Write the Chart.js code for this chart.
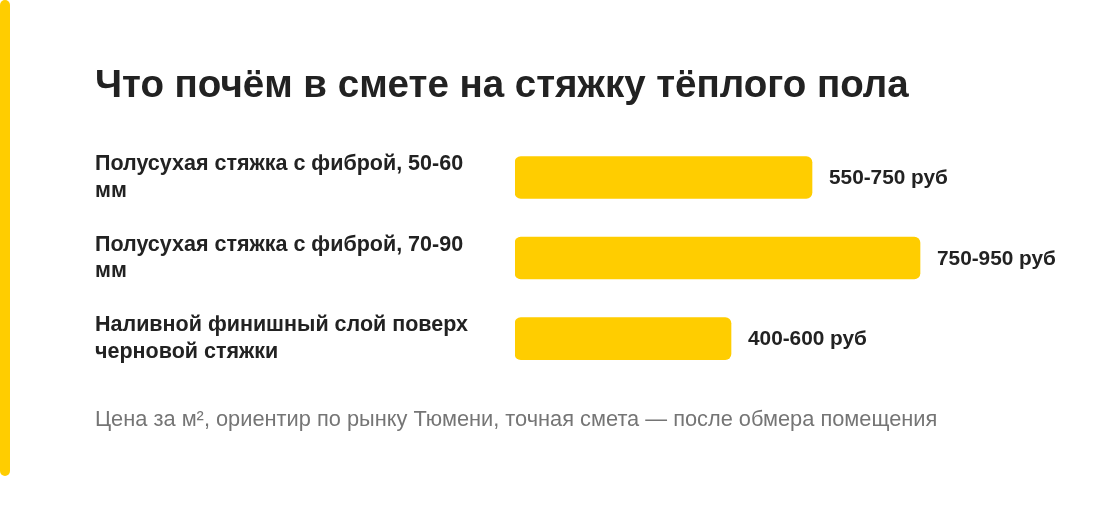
<!DOCTYPE html>
<html>
<head>
<meta charset="utf-8">
<script src="https://cdn.jsdelivr.net/npm/chart.js@4"></script>
<style>
  html, body { margin: 0; padding: 0; background: #ffffff; }
  #wrap { position: relative; width: 1100px; height: 518px; overflow: hidden; }
  #stripe { position: absolute; left: 0; top: 0; width: 10px; height: 476px; border-radius: 5px; background: #FFCD00; }
  canvas { position: absolute; left: 0; top: 0; }
</style>
</head>
<body>
<div id="wrap">
  <div id="stripe"></div>
  <canvas id="c" width="1100" height="518"></canvas>
</div>
<script>
const titleText = 'Что почём в смете на стяжку тёплого пола';
const footnote = 'Цена за м², ориентир по рынку Тюмени, точная смета — после обмера помещения';
const categories = [
  ['Полусухая стяжка с фиброй, 50-60', 'мм'],
  ['Полусухая стяжка с фиброй, 70-90', 'мм'],
  ['Наливной финишный слой поверх', 'черновой стяжки']
];
const priceFrom = [550, 750, 400];
const rangeLabels = ['550-750 руб', '750-950 руб', '400-600 руб'];

const FONT = '"Liberation Sans", Arial, Helvetica, sans-serif';

const valueLabels = {
  id: 'valueLabels',
  afterDatasetsDraw(chart) {
    const ctx = chart.ctx;
    const meta = chart.getDatasetMeta(0);
    ctx.save();
    ctx.font = 'bold 20.8px ' + FONT;
    ctx.fillStyle = '#222222';
    ctx.textAlign = 'left';
    ctx.textBaseline = 'middle';
    meta.data.forEach((bar, i) => {
      ctx.fillText(rangeLabels[i], bar.x + 17, bar.y + 1);
    });
    ctx.restore();
  }
};

new Chart(document.getElementById('c'), {
  type: 'bar',
  data: {
    labels: categories,
    datasets: [{
      data: priceFrom,
      backgroundColor: '#FFCD00',
      borderRadius: 6,
      borderSkipped: false,
      barThickness: 42
    }]
  },
  options: {
    indexAxis: 'y',
    responsive: false,
    animation: false,
    layout: { padding: { top: 53, left: 95, right: 45, bottom: 80 } },
    plugins: {
      legend: { display: false },
      tooltip: { enabled: false },
      title: {
        display: true,
        text: titleText,
        align: 'start',
        color: '#222222',
        font: { family: FONT, size: 38.5, weight: 'bold', lineHeight: 1.2 },
        padding: { top: 10, bottom: 28 }
      },
      subtitle: {
        display: true,
        text: footnote,
        position: 'bottom',
        align: 'start',
        color: '#757575',
        font: { family: FONT, size: 21.8, weight: 'normal', lineHeight: 1.2 },
        padding: { top: 28, bottom: 5 }
      }
    },
    scales: {
      x: {
        display: false,
        min: 0,
        max: 1000
      },
      y: {
        grid: { display: false },
        border: { display: false },
        afterFit(scale) { scale.width = 420; },
        ticks: {
          crossAlign: 'far',
          color: '#222222',
          padding: 0,
          font: { family: FONT, size: 21.5, weight: 'bold', lineHeight: 1.25 }
        }
      }
    }
  },
  plugins: [valueLabels]
});
</script>
</body>
</html>
